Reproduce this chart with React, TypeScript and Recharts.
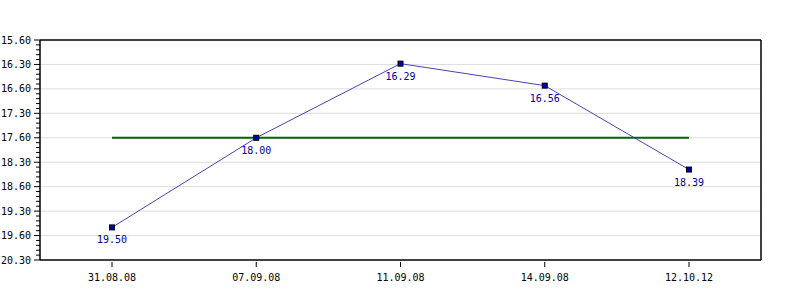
import { LabelList, Line, LineChart, ReferenceLine, XAxis, YAxis } from "recharts";

// dates on the x axis
const dates = ["31.08.08", "07.09.08", "11.09.08", "14.09.08", "12.10.12"];
// times as mm.ss
const times = [19.5, 18.0, 16.29, 16.56, 18.39];
const timeLabels = ["19.50", "18.00", "16.29", "16.56", "18.39"];
// the green target line (18:00)
const target = [18.0, 18.0, 18.0, 18.0, 18.0];

// axis: 16:00 .. 20:30 in 30 second steps, labelled the way the source does it
const yTickLabels = ["15.60", "16.30", "16.60", "17.30", "17.60", "18.30", "18.60", "19.30", "19.60", "20.30"];
const Y_MIN = 16 * 60;
const Y_MAX = 20 * 60 + 30;

const FONT = "'DejaVu Sans Mono', monospace";

function toSec(t: number) {
  const m = Math.floor(t);
  return m * 60 + Math.round((t - m) * 100);
}

const data = dates.map((d, i) => ({
  date: d,
  time: toSec(times[i]),
  label: timeLabels[i],
  target: toSec(target[i]),
}));

const majorTicks = yTickLabels.map((_, i) => Y_MIN + i * 30);
// minor ticks every 6s
const allTicks: number[] = [];
for (let s = Y_MIN; s <= Y_MAX; s += 6) allTicks.push(s);

function YTick(props: any) {
  const { x, y, payload, side } = props;
  const v = payload.value as number;
  const major = (v - Y_MIN) % 30 === 0;
  const dir = side === "left" ? -1 : 1;
  const len = major ? 6 : 4;
  return (
    <g>
      <line x1={x} x2={x + dir * len} y1={y} y2={y} stroke="#000" />
      {major && (
        <text
          x={side === "left" ? x - 9 : x + 7}
          y={y}
          dy={3.5}
          textAnchor={side === "left" ? "end" : "start"}
          fontSize={10}
          fontFamily={FONT}
          fill="#000"
        >
          {yTickLabels[(v - Y_MIN) / 30]}
        </text>
      )}
    </g>
  );
}

function XTick(props: any) {
  const { x, y, payload } = props;
  return (
    <g>
      <line x1={x} x2={x} y1={y} y2={y + 5} stroke="#000" />
      <text x={x} y={y + 19} textAnchor="middle" fontSize={10} fontFamily={FONT} fill="#000">
        {payload.value}
      </text>
    </g>
  );
}

function SquareDot(props: any) {
  const { cx, cy, index } = props;
  return (
    <rect key={`dot-${index}`} x={cx - 2.5} y={cy - 2.5} width={5} height={5} fill="#0000aa" stroke="#000" strokeWidth={1} />
  );
}

function PointLabel(props: any) {
  const { x, y, value } = props;
  return (
    <text x={x} y={y + 16} textAnchor="middle" fontSize={10} fontFamily={FONT} fill="#000099">
      {value}
    </text>
  );
}

export default function App() {
  return (
    <div style={{ position: "absolute", left: 0, top: 0, width: 800, height: 300, background: "#fff" }}>
      <LineChart width={800} height={300} data={data} margin={{ top: 40, right: 0, bottom: 0, left: 0 }}>
        {majorTicks.slice(1, -1).map((v) => (
          <ReferenceLine key={v} yAxisId="left" y={v} stroke="#dddddd" strokeWidth={1} />
        ))}
        <XAxis
          dataKey="date"
          height={40}
          padding={{ left: 72, right: 72 }}
          stroke="#000"
          strokeWidth={1.5}
          tickLine={false}
          tickSize={0}
          tick={<XTick />}
          interval={0}
        />
        <YAxis
          yAxisId="left"
          orientation="left"
          type="number"
          reversed
          domain={[Y_MIN, Y_MAX]}
          ticks={allTicks}
          interval={0}
          width={40}
          stroke="#000"
          strokeWidth={1.5}
          tickLine={false}
          tickSize={0}
          tickMargin={0}
          tick={<YTick side="left" />}
        />
        <YAxis
          yAxisId="right"
          orientation="right"
          type="number"
          reversed
          domain={[Y_MIN, Y_MAX]}
          ticks={allTicks}
          interval={0}
          width={39}
          stroke="#000"
          strokeWidth={1.5}
          tickLine={false}
          tickSize={0}
          tickMargin={0}
          tick={<YTick side="right" />}
        />
        <ReferenceLine yAxisId="left" y={Y_MIN} stroke="#000" strokeWidth={1.5} />
        <Line
          yAxisId="left"
          dataKey="target"
          stroke="#006600"
          strokeWidth={2}
          dot={false}
          activeDot={false}
          isAnimationActive={false}
        />
        <Line
          yAxisId="left"
          dataKey="time"
          stroke="#4444bb"
          strokeWidth={1}
          dot={SquareDot}
          activeDot={false}
          isAnimationActive={false}
        >
          <LabelList dataKey="label" content={PointLabel} />
        </Line>
      </LineChart>
    </div>
  );
}
